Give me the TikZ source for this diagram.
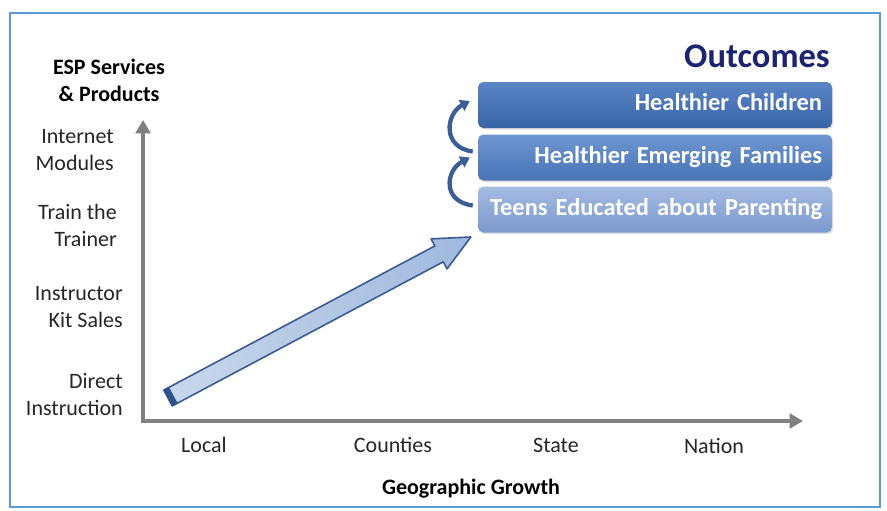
\documentclass[tikz,border=0pt]{standalone}
\usepackage{fontspec}
\setmainfont{Carlito}
\usetikzlibrary{arrows.meta,shadows}
\definecolor{frameblue}{RGB}{91,155,213}
\definecolor{navy}{RGB}{28,36,110}
\definecolor{axisgray}{RGB}{128,128,128}
\definecolor{curveblue}{RGB}{58,94,150}
\definecolor{arrowline}{RGB}{59,92,145}
\definecolor{arrowtail}{RGB}{47,82,140}
\begin{document}
\begin{tikzpicture}[x=0.75pt,y=-0.75pt,
  lbl/.style={font=\fontsize{16.5}{20.25}\selectfont, text=black!85, align=right, inner sep=0pt},
  axlbl/.style={font=\fontsize{16.5}{20}\selectfont, text=black!85, inner sep=0pt, anchor=base},
  outcome/.style={rounded corners=4pt, minimum width=265.5pt, minimum height=34.5pt,
    text width=250.5pt, align=right, inner xsep=7.5pt, text height=1em, text depth=0.15em,
    font=\bfseries\fontsize{18.3}{22}\selectfont, text=white,
    drop shadow={shadow xshift=0.8pt, shadow yshift=-1.2pt, opacity=0.25}},
  curved/.style={curveblue, line width=3.2pt, -{Triangle[length=7pt,width=9pt]}}]
  \fill[white] (0,0) rectangle (887,510);
  \draw[frameblue, line width=1.5pt] (10,13) rectangle (880,507);
  % axes
  \coordinate (origin) at (143,421);
  \coordinate (ytip) at (143,120);
  \coordinate (xtip) at (803,421);
  \draw[axisgray, line width=3pt, {Triangle[length=10pt,width=11pt]}-{Triangle[length=10pt,width=11pt]}]
    (ytip) -- (origin) -- (xtip);
  \node[lbl, font=\bfseries\fontsize{16.5}{20.25}\selectfont, align=center, text=black] (esp) at (109,80) {ESP Services\\\& Products};
  \node[lbl, anchor=east] (internet) at (114,150) {Internet\\Modules};
  \node[lbl, anchor=east] (trainer) at (117,225) {Train the\\Trainer};
  \node[lbl, anchor=east] (kit) at (123,307) {Instructor\\Kit Sales};
  \node[lbl, anchor=east] (direct) at (123,395) {Direct\\Instruction};
  \node[axlbl] (local) at (204,452) {Local};
  \node[axlbl] (counties) at (393,452) {Counties};
  \node[axlbl] (state) at (556,452) {State};
  \node[axlbl] (nation) at (714,453) {Nation};
  \node[axlbl, font=\bfseries\fontsize{16.5}{20}\selectfont, text=black] (geo) at (471,494) {Geographic Growth};
  % outcomes
  \node[anchor=base east, inner sep=0pt, font=\bfseries\fontsize{25.9}{30}\selectfont, text=navy] (outcomes) at (830,67) {Outcomes};
  \node[outcome, top color={rgb,255:red,90;green,133;blue,197}, bottom color={rgb,255:red,56;green,100;blue,166}] (h1) at (655,105) {Healthier Children};
  \node[outcome, top color={rgb,255:red,110;green,150;blue,209}, bottom color={rgb,255:red,72;green,116;blue,181}] (h2) at (655,157.5) {Healthier Emerging Families};
  \node[outcome, top color={rgb,255:red,164;green,187;blue,226}, bottom color={rgb,255:red,124;green,153;blue,205}] (h3) at (655,209.5) {Teens Educated about Parenting};
  \draw[curved] ([shift={(-5,-6)}]h2.west) .. controls +(-31,-4) and +(-24,13) .. ([shift={(-8,-4)}]h1.west);
  \draw[curved] ([shift={(-5,-4)}]h3.west) .. controls +(-31,-4) and +(-24,13) .. ([shift={(-8,0)}]h2.west);
  % growth arrow
  \coordinate (tail) at (168,398);
  \begin{scope}[shift={(tail)}, rotate=28]
    \draw[arrowline, line width=1.2pt, line join=round, left color={rgb,255:red,200;green,215;blue,236}, right color={rgb,255:red,160;green,185;blue,222}]
      (0,9) -- (307,9) -- (307,17) -- (343,0) -- (307,-17) -- (307,-9) -- (0,-9) -- cycle;
    \fill[arrowtail] (0,-9) rectangle (6,9);
  \end{scope}
\end{tikzpicture}
\end{document}
